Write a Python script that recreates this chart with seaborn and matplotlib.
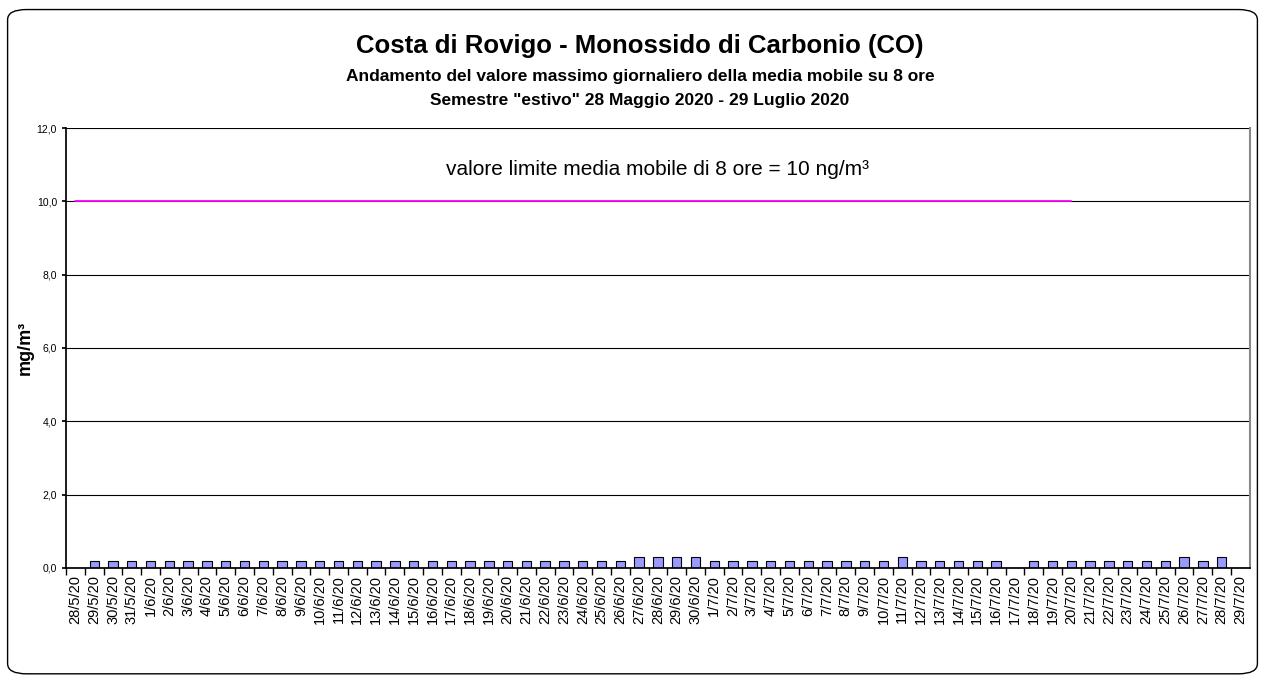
import numpy as np
import pandas as pd
import matplotlib
matplotlib.use("Agg")
import matplotlib.pyplot as plt
from matplotlib.patches import FancyBboxPatch
from matplotlib.ticker import FuncFormatter, MultipleLocator
import seaborn as sns

dates = ["28/5/20", "29/5/20", "30/5/20", "31/5/20"] + \
        [f"{d}/6/20" for d in range(1, 31)] + \
        [f"{d}/7/20" for d in range(1, 30)]

values = [np.nan] + [0.2] * 29 + [0.3, 0.3, 0.3, 0.3] + \
         [0.2] * 10 + [0.3] + [0.2] * 5 + [np.nan] + [0.2] * 8 + \
         [0.3, 0.2, 0.3, np.nan]

limit = [10.0] * 54 + [np.nan] * 9

sns.set_theme(style="white")
plt.rcParams['font.family'] = ['Liberation Sans', 'DejaVu Sans']
plt.rcParams['text.color'] = 'black'
plt.rcParams['axes.labelcolor'] = 'black'
plt.rcParams['xtick.color'] = 'black'
plt.rcParams['ytick.color'] = 'black'

df = pd.DataFrame({"data": dates, "valore": values, "limite": limit})

fig = plt.figure(figsize=(12.65, 6.82), dpi=100)
ax = fig.add_axes([0.0522, 0.1672, 0.9358, 0.6451])

sns.barplot(data=df, x="data", y="valore", ax=ax, color="#9999FF",
            edgecolor="black", linewidth=0.8, width=0.5, saturation=1)
ax.plot(np.arange(len(dates)), df["limite"], color="#FF00FF", linewidth=1.3, zorder=3)

ax.set_ylim(0, 12)
ax.set_xlim(-0.5, len(dates) - 0.5)
ax.yaxis.set_major_locator(MultipleLocator(2))
ax.yaxis.set_major_formatter(FuncFormatter(lambda v, p: f"{v:.1f}".replace(".", ",")))
ax.grid(axis="y", color="black", linewidth=0.8)
ax.set_axisbelow(True)
ax.spines["top"].set_visible(False)
ax.spines["left"].set_color("black")
ax.spines["bottom"].set_color("black")
ax.spines["right"].set_color("#888888")
ax.spines["right"].set_linewidth(1.5)
ax.tick_params(axis="y", labelsize=7.5, length=3, left=True, color="black")
ax.tick_params(axis="x", labelsize=10.5, rotation=90, bottom=True, color="black")
ax.set_xticks(np.arange(len(dates)) - 0.5, minor=True)
ax.tick_params(axis="x", which="major", length=0, pad=5)
ax.tick_params(axis="x", which="minor", length=5, bottom=True, color="black")
ax.set_xlabel("")
ax.set_ylabel("mg/m³", fontsize=13, fontweight="bold", labelpad=2)

ax.text(0.5, 0.905, "valore limite media mobile di 8 ore = 10 ng/m³",
        transform=ax.transAxes, ha="center", va="center", fontsize=15)

fig.text(0.506, 0.932, "Costa di Rovigo - Monossido di Carbonio (CO)",
         ha="center", va="center", fontsize=18.5, fontweight="bold")
fig.text(0.506, 0.888, "Andamento del valore massimo giornaliero della media mobile su 8 ore",
         ha="center", va="center", fontsize=12.5, fontweight="bold")
fig.text(0.506, 0.852, "Semestre \"estivo\" 28 Maggio 2020 - 29 Luglio 2020",
         ha="center", va="center", fontsize=12.5, fontweight="bold")

border = FancyBboxPatch((0.006, 0.012), 0.988, 0.974, transform=fig.transFigure,
                        boxstyle="round,pad=0,rounding_size=0.015",
                        facecolor="none", edgecolor="black", linewidth=1)
fig.patches.append(border)

fig.savefig("out.png", dpi=100)
